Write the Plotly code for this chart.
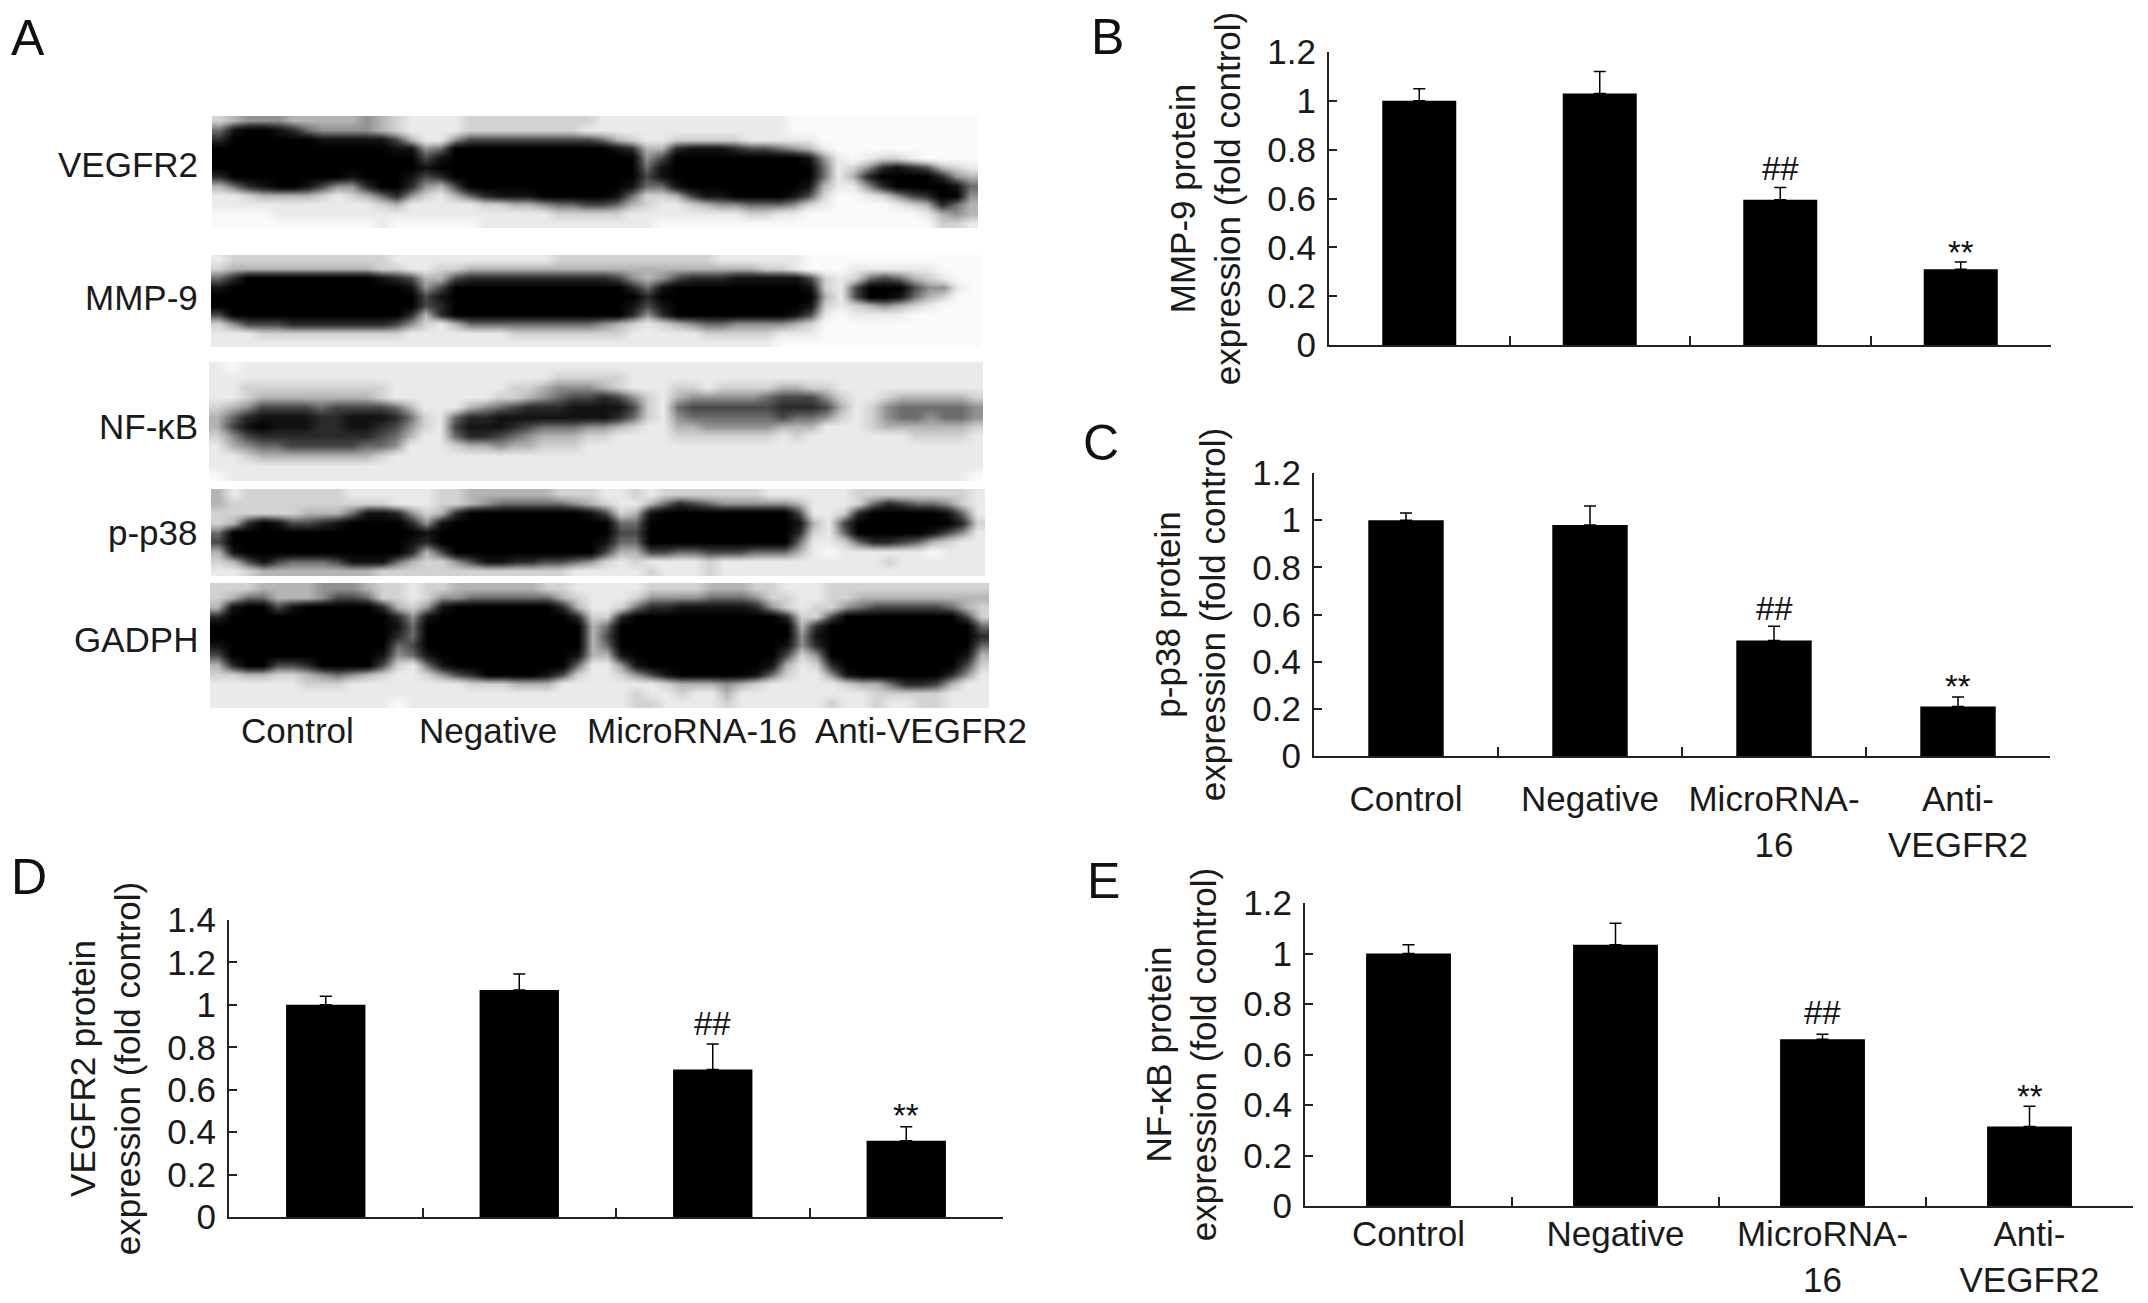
import plotly.graph_objects as go

FIG_W = 2148
FIG_H = 1303
FONT = "Liberation Sans"
AXIS_COLOR = "#222222"

categories = ["Control", "Negative", "MicroRNA-16", "Anti-VEGFR2"]
wrapped_labels = ["Control", "Negative", "MicroRNA-<br>16", "Anti-<br>VEGFR2"]

mmp9_values = [1.0, 1.03, 0.595, 0.31]
mmp9_errors = [0.05, 0.09, 0.05, 0.03]
p38_values = [1.0, 0.98, 0.49, 0.21]
p38_errors = [0.03, 0.08, 0.06, 0.04]
vegfr2_values = [1.0, 1.07, 0.695, 0.36]
vegfr2_errors = [0.04, 0.075, 0.12, 0.065]
nfkb_values = [1.0, 1.035, 0.66, 0.315]
nfkb_errors = [0.035, 0.085, 0.02, 0.08]

# marker heights for ## and ** above the last two bars
mmp9_marks = [0.723, 0.38]
p38_marks = [0.626, 0.296]
vegfr2_marks = [0.914, 0.48]
nfkb_marks = [0.766, 0.435]

# blot grey levels, 0 is black and 9 is white
# each row is one horizontal strip, split in four groups of 13 columns
vegfr2_blot = [
    "7655566666567 8888777777777 8888888888888 9999999999999",
    "4100124555567 8888777777778 8888888888888 9999999999999",
    "2000000111113 6885333333333 4678877777888 8899999999999",
    "0000000000001 1540000000000 0126621112334 5689999999999",
    "0000000000000 0310000000000 0005300000000 0158987789999",
    "0000000000000 0100000000000 0004100000000 0048752123678",
    "2000000001000 1320000000000 0003100000000 0048620000256",
    "6421001355200 2563000000000 0014410000000 0168852000014",
    "8876666787642 5786421110000 0147763110000 1379987532005",
    "8888888888876 8888877665443 3467887655444 5789999876246",
    "9999888888888 8888888888777 7788888888778 8999999998656",
    "9999999999989 9999988888888 8888999999999 9999999999778",
]
mmp9_blot = [
    "8777777777778 8888888888777 7777777788888 8999999999999",
    "7666666666677 8877666666666 6666666666677 8999888888999",
    "4200000000012 3663222222222 2356532221111 1378743467899",
    "1000000000000 1530000000000 0024100000000 0178300035589",
    "0000000000000 0310000000000 0002000000000 0068300146799",
    "0000000000000 0320000000000 0013100000000 0178765678999",
    "3000000000000 2620000000000 0025200000000 1389888899999",
    "7533322222223 5786444444444 5678765445555 6799999999999",
    "8887777777777 8888888777777 7788888777778 8899999999999",
    "8888888888888 8888888888888 8888888888889 9999999999999",
]
nfkb_blot = [
    "8988888888888 8888888888888 8888888888888 8888888888888",
    "8888888888888 8888888888777 7788888888888 8888888888888",
    "8877777777778 8888888776555 6788877877776 6778888888888",
    "8876666666678 8888887765433 2357865555543 3357887666667",
    "7653333433334 6888654322211 1137843333332 2236875444445",
    "6421111221112 4784221111111 1247854444443 4457875445445",
    "6310111221123 5783111234445 5678866555556 6688876666667",
    "7532222222234 6884223456667 7888877777778 7888888877778",
    "8654433333445 8887665667778 8888888888888 8888888888888",
    "8876666666678 8888888888888 8888888888888 8888888888888",
    "8888888888888 8888888888888 8888888888888 8888888888888",
    "9888888888888 8888888888888 8888888888888 8888888888889",
]
p38_blot = [
    "6877777778888 8877666666777 8878777777788 8888777777778",
    "6777777777778 8877654444456 7886423455555 6888742344578",
    "7777776664112 5762000000001 3761000000000 3887200000148",
    "7620133210000 2510000000000 0440000000000 1683000000027",
    "4000000000000 0100000000000 0330000000000 2784000001358",
    "3000000000000 1200000000000 1440000000000 4887422346788",
    "6100000000000 2630000000000 3663344333444 6898888889888",
    "7631344431114 6775311223345 7878888788888 8888887888888",
    "8876666666677 7777777777788 8887888788888 8888888888888",
]
gadph_blot = [
    "7776666555677 8776666667788 8887777666778 8877777777777",
    "7644666533477 8755444444678 8875555444577 8877666666666",
    "6100310000026 7510000000268 8742211111257 8775433333467",
    "2000000000002 5100000000027 7200000000002 7730000000037",
    "0000000000001 4000000000006 4000000000000 6200000000004",
    "0000000000002 4000000000006 3000000000000 5100000000002",
    "1000000000004 3000000000006 4000000000001 5200000000004",
    "3000000000015 4100000000016 6100000000003 7500000000016",
    "6200332000037 8410000000048 8510000000016 8720000000037",
    "7766776545678 8753200001378 8753100000147 8851000000258",
    "8888887778888 8888777666888 8888766656788 8887664223688",
    "8888888888888 8888888888888 8878878868888 8888877777888",
    "8888888888889 8888888888888 8877888878888 8878878877888",
]

# screen grey for each blot digit
blot_greys = [0, 18, 42, 72, 108, 145, 180, 210, 234, 250]


def x_domain(left, right):
    return [left / FIG_W, right / FIG_W]


def y_domain(top, bottom):
    return [1 - bottom / FIG_H, 1 - top / FIG_H]


def blot_to_z(blot_rows):
    return [[int(c) for c in row.replace(" ", "")] for row in blot_rows]


def blot_colorscale():
    return [[i / 9, f"rgb({g},{g},{g})"] for i, g in enumerate(blot_greys)]


def add_blot(fig, number, blot_rows, left, right, top, bottom):
    fig.add_trace(
        go.Heatmap(
            z=blot_to_z(blot_rows),
            zmin=0,
            zmax=9,
            zsmooth="best",
            colorscale=blot_colorscale(),
            showscale=False,
            hoverinfo="skip",
            xaxis=f"x{number}",
            yaxis=f"y{number}",
        )
    )
    hidden = dict(visible=False, showgrid=False, zeroline=False, automargin=False)
    fig.update_layout(
        {
            f"xaxis{number}": dict(domain=x_domain(left, right), anchor=f"y{number}", **hidden),
            f"yaxis{number}": dict(
                domain=y_domain(top, bottom), anchor=f"x{number}", autorange="reversed", **hidden
            ),
        }
    )


def add_bars(fig, number, values, errors, marks, title, box, y_max, labels=None, label_gap=8):
    left, right, top, bottom = box
    fig.add_trace(
        go.Bar(
            x=categories,
            y=values,
            width=0.41,
            marker=dict(color="black", line=dict(width=0)),
            error_y=dict(
                type="data",
                symmetric=False,
                array=errors,
                arrayminus=[0, 0, 0, 0],
                color="black",
                thickness=1.5,
                width=6,
            ),
            xaxis=f"x{number}",
            yaxis=f"y{number}",
            showlegend=False,
        )
    )
    x_axis = dict(
        domain=x_domain(left, right),
        anchor=f"y{number}",
        automargin=False,
        type="category",
        categoryorder="array",
        categoryarray=categories,
        range=[-0.5, 3.5],
        tickson="boundaries",
        ticks="inside",
        ticklen=9,
        tickwidth=1.5,
        tickcolor=AXIS_COLOR,
        showline=True,
        linecolor=AXIS_COLOR,
        linewidth=2,
        showgrid=False,
        zeroline=False,
        tickangle=0,
        tickfont=dict(family=FONT, size=35, color="#1a1a1a"),
    )
    if labels is None:
        x_axis["showticklabels"] = False
    else:
        x_axis["tickvals"] = categories
        x_axis["ticktext"] = labels
        x_axis["ticklabelstandoff"] = label_gap
    y_axis = dict(
        domain=y_domain(top, bottom),
        anchor=f"x{number}",
        automargin=False,
        range=[0, y_max],
        dtick=0.2,
        ticks="inside",
        ticklen=8,
        tickwidth=1.5,
        tickcolor=AXIS_COLOR,
        showline=True,
        linecolor=AXIS_COLOR,
        linewidth=2,
        showgrid=False,
        zeroline=False,
        ticklabelstandoff=4,
        tickfont=dict(family=FONT, size=35, color="#1a1a1a"),
        title=dict(text=title, font=dict(family=FONT, size=35, color="#1a1a1a"), standoff=16),
    )
    fig.update_layout({f"xaxis{number}": x_axis, f"yaxis{number}": y_axis})
    for cat, mark, text in zip(categories[2:], marks, ["##", "**"]):
        fig.add_annotation(
            x=cat,
            y=mark,
            xref=f"x{number}",
            yref=f"y{number}",
            text=text,
            showarrow=False,
            yanchor="middle",
            font=dict(family=FONT, size=33, color="#111111"),
        )


fig = go.Figure()

add_bars(fig, "", mmp9_values, mmp9_errors, mmp9_marks,
         "MMP-9 protein<br>expression (fold control)", (1329, 2051, 52, 345), 1.2)
add_bars(fig, 2, p38_values, p38_errors, p38_marks,
         "p-p38 protein<br>expression (fold control)", (1314, 2050, 473, 756), 1.2, wrapped_labels, 11)
add_bars(fig, 3, vegfr2_values, vegfr2_errors, vegfr2_marks,
         "VEGFR2 protein<br>expression (fold control)", (229, 1003, 920, 1217), 1.4)
add_bars(fig, 4, nfkb_values, nfkb_errors, nfkb_marks,
         "NF-κB protein<br>expression (fold control)", (1305, 2133, 903, 1206), 1.2, wrapped_labels, -4)

add_blot(fig, 5, vegfr2_blot, 212, 978, 116, 228)
add_blot(fig, 6, mmp9_blot, 211, 981, 255, 347)
add_blot(fig, 7, nfkb_blot, 209, 983, 362, 481)
add_blot(fig, 8, p38_blot, 211, 985, 489, 576)
add_blot(fig, 9, gadph_blot, 210, 989, 583, 708)

# row labels left of the blots
row_labels = ["VEGFR2", "MMP-9", "NF-κB", "p-p38", "GADPH"]
row_label_y = [164, 297, 427, 532, 640]
for text, y_px in zip(row_labels, row_label_y):
    fig.add_annotation(
        x=200 / FIG_W, y=1 - y_px / FIG_H, xref="paper", yref="paper", text=text,
        showarrow=False, xanchor="right", yanchor="middle",
        font=dict(family=FONT, size=35, color="#1a1a1a"),
    )

# lane labels under the blots
lane_label_x = [297, 488, 692, 921]
for text, x_px in zip(categories, lane_label_x):
    fig.add_annotation(
        x=x_px / FIG_W, y=1 - 730 / FIG_H, xref="paper", yref="paper", text=text,
        showarrow=False, xanchor="center", yanchor="middle",
        font=dict(family=FONT, size=35, color="#1a1a1a"),
    )

panel_letters = ["A", "B", "C", "D", "E"]
panel_letter_x = [28, 1107, 1101, 29, 1103]
panel_letter_y = [38, 37, 443, 877, 881]
for text, x_px, y_px in zip(panel_letters, panel_letter_x, panel_letter_y):
    fig.add_annotation(
        x=x_px / FIG_W, y=1 - y_px / FIG_H, xref="paper", yref="paper", text=text,
        showarrow=False, xanchor="center", yanchor="middle",
        font=dict(family=FONT, size=50, color="#111111"),
    )

fig.update_layout(
    width=FIG_W,
    height=FIG_H,
    margin=dict(l=0, r=0, t=0, b=0),
    paper_bgcolor="white",
    plot_bgcolor="white",
    showlegend=False,
)

fig.write_html(
    "out.html",
    config=dict(displayModeBar=False),
    post_script="document.body.style.margin='0';",
)
